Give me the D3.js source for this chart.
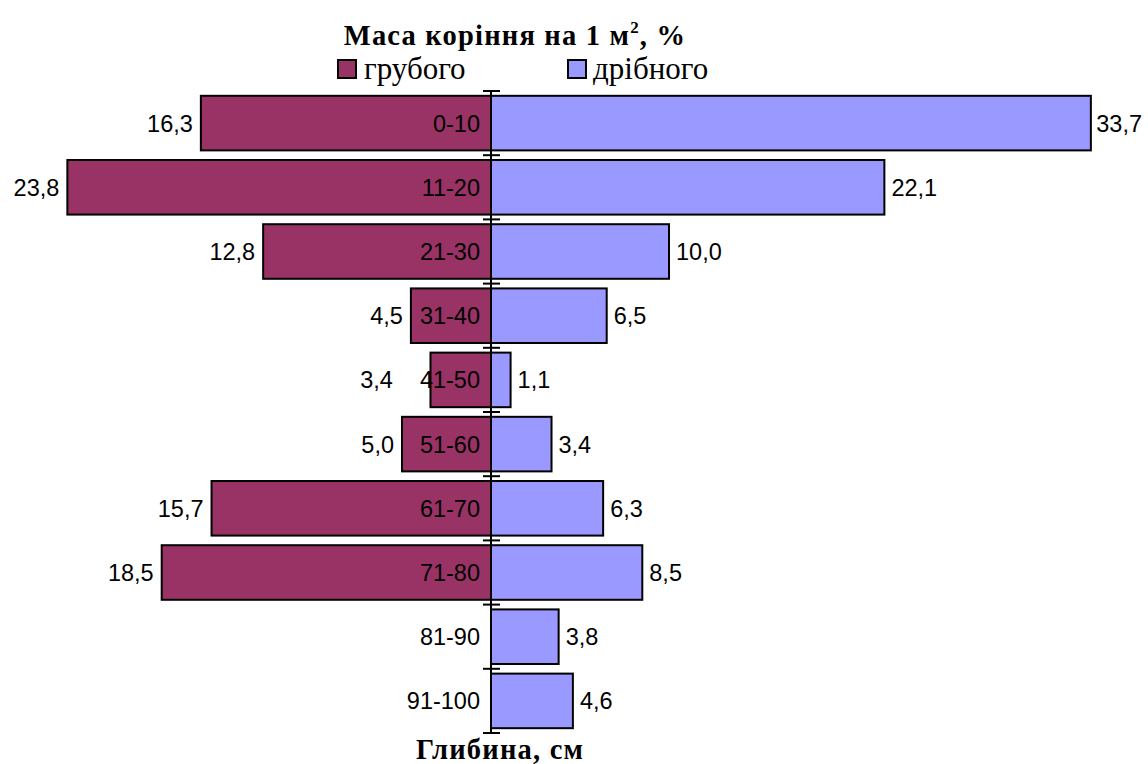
<!DOCTYPE html>
<html><head><meta charset="utf-8">
<script src="https://cdn.jsdelivr.net/npm/d3@7"></script>
<style>body{margin:0;background:#fff}</style>
</head><body>
<svg id="c" width="1148" height="764"></svg>
<script>
const categories = ["0-10","11-20","21-30","31-40","41-50","51-60","61-70","71-80","81-90","91-100"];
const coarse = [16.3,23.8,12.8,4.5,3.4,5.0,15.7,18.5,0,0];
const fine = [33.7,22.1,10.0,6.5,1.1,3.4,6.3,8.5,3.8,4.6];
const seriesNames = ["грубого","дрібного"];
const titleText = "Маса коріння на 1 м";
const axisTitle = "Глибина, см";

const svg = d3.select("#c");
const x0 = 491, k = 17.8;
const x = d3.scaleLinear().domain([-24,35]).range([x0-24*k, x0+35*k]);
const y = d3.scaleBand().domain(categories).range([91,733]).paddingInner(0.15).paddingOuter(0.075);
const fmt = v => d3.format(".1f")(v).replace(".", ",");
const colC = "#993366", colF = "#9999FF";
const sans = "Liberation Sans, Arial, sans-serif";
const serif = "Liberation Serif, Times New Roman, serif";
const fs = 23.5;
const rightLimit = 1142;

const gBars = svg.append("g"), gAxis = svg.append("g"), gText = svg.append("g");

// category labels first (need their widths)
const catStart = {};
categories.forEach(c=>{
  const tx = gText.append("text").attr("x", x(0)-11).attr("y", y(c)+y.bandwidth()/2).attr("dy","0.36em")
    .attr("text-anchor","end").attr("font-family",sans).attr("font-size",fs).attr("fill","#000").text(c);
  catStart[c] = x(0)-11 - tx.node().getComputedTextLength();
});

categories.forEach((c,i)=>{
  const cy = y(c)+y.bandwidth()/2;
  if (coarse[i] > 0) {
    const edge = x(-coarse[i]);
    gBars.append("rect").attr("x", edge).attr("y", y(c)).attr("width", x(0)-edge)
      .attr("height", y.bandwidth()).attr("fill", colC).attr("stroke","#000").attr("stroke-width",2);
    let lx = edge - 8;
    if (edge > catStart[c]) lx = catStart[c] - 27; // avoid collision with category label
    gText.append("text").attr("x", lx).attr("y", cy).attr("dy","0.36em")
      .attr("text-anchor","end").attr("font-family",sans).attr("font-size",fs).text(fmt(coarse[i]));
  }
  gBars.append("rect").attr("x", x(0)).attr("y", y(c)).attr("width", x(fine[i])-x(0))
    .attr("height", y.bandwidth()).attr("fill", colF).attr("stroke","#000").attr("stroke-width",2);
  const lbl = gText.append("text").attr("x", x(fine[i])+7).attr("y", cy).attr("dy","0.36em")
    .attr("text-anchor","start").attr("font-family",sans).attr("font-size",fs).text(fmt(fine[i]));
  const w = lbl.node().getComputedTextLength();
  if (x(fine[i])+7+w > rightLimit) lbl.attr("x", rightLimit - w);
});

const ticks = categories.map(c=>y(c)-y.step()*y.paddingInner()/2).concat([733]);
gAxis.append("line").attr("x1",x(0)).attr("x2",x(0)).attr("y1",91).attr("y2",733).attr("stroke","#000").attr("stroke-width",2);
ticks.forEach(t=>{
  gAxis.append("line").attr("x1",x(0)-8).attr("x2",x(0)+9).attr("y1",t).attr("y2",t).attr("stroke","#000").attr("stroke-width",2);
});

const t = svg.append("text").attr("x",515).attr("y",45).attr("text-anchor","middle")
  .attr("font-family",serif).attr("font-weight","bold").attr("font-size",28.5).attr("letter-spacing",1.2);
t.append("tspan").text(titleText);
t.append("tspan").attr("font-size",17).attr("dy",-12).text("2");
t.append("tspan").attr("dy",12).text(", %");

const leg = [[338,364,colC,seriesNames[0]],[568,593,colF,seriesNames[1]]];
leg.forEach(([rx,tx,col,name])=>{
  svg.append("rect").attr("x",rx).attr("y",60).attr("width",18).attr("height",18).attr("fill",col).attr("stroke","#000").attr("stroke-width",2);
  svg.append("text").attr("x",tx).attr("y",79).attr("font-family",serif).attr("font-size",31).text(name);
});

svg.append("text").attr("x",500).attr("y",759).attr("text-anchor","middle").attr("font-family",serif)
  .attr("font-weight","bold").attr("font-size",28.5).attr("letter-spacing",1.2).text(axisTitle);
</script>
</body></html>
